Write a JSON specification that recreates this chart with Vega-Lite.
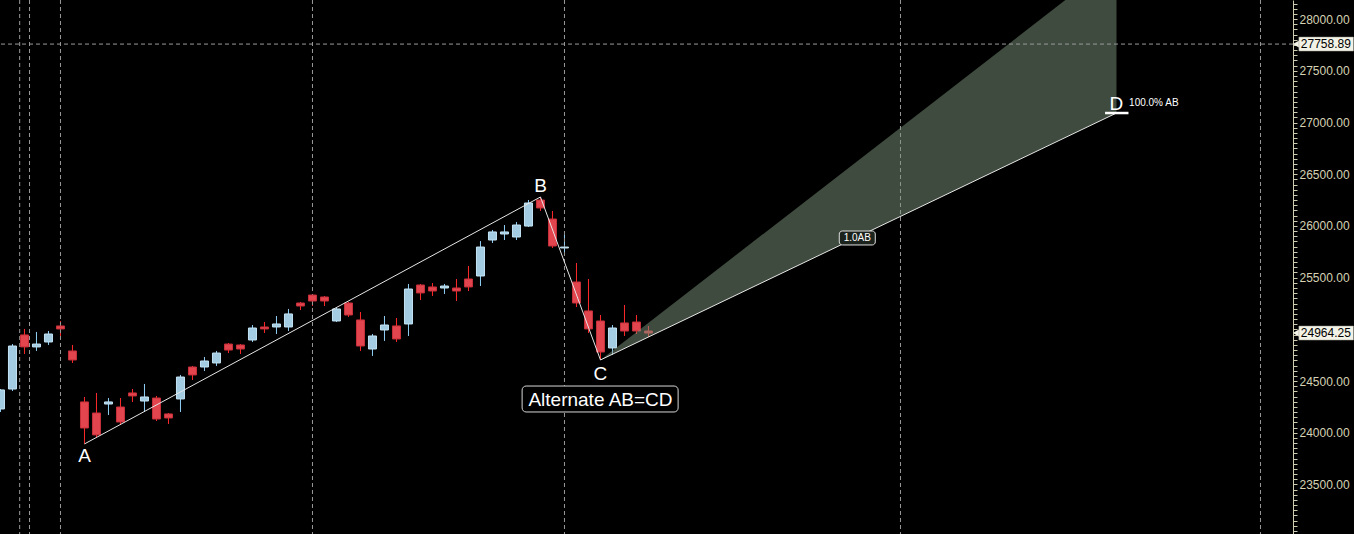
{
  "$schema": "https://vega.github.io/schema/vega-lite/v6.json",
  "width": 1293,
  "height": 534,
  "autosize": "none",
  "padding": {"left": 0, "top": 0, "right": 61, "bottom": 0},
  "background": "#000000",
  "config": {"view": {"stroke": null}},
  "datasets": {
    "one": [{}],
    "candles": [
      {"i": 0, "open": 24230, "high": 24423, "low": 24201, "close": 24414},
      {"i": 1, "open": 24423, "high": 24858, "low": 24404, "close": 24839},
      {"i": 2, "open": 24946, "high": 25004, "low": 24762, "close": 24830},
      {"i": 3, "open": 24830, "high": 24975, "low": 24791, "close": 24858},
      {"i": 4, "open": 24878, "high": 24984, "low": 24849, "close": 24955},
      {"i": 5, "open": 25033, "high": 25081, "low": 24936, "close": 25004},
      {"i": 6, "open": 24791, "high": 24849, "low": 24675, "close": 24704},
      {"i": 7, "open": 24298, "high": 24346, "low": 23892, "close": 24046},
      {"i": 8, "open": 24191, "high": 24385, "low": 23959, "close": 23979},
      {"i": 9, "open": 24278, "high": 24336, "low": 24172, "close": 24298},
      {"i": 10, "open": 24249, "high": 24336, "low": 24075, "close": 24104},
      {"i": 11, "open": 24385, "high": 24423, "low": 24298, "close": 24356},
      {"i": 12, "open": 24307, "high": 24472, "low": 24201, "close": 24346},
      {"i": 13, "open": 24336, "high": 24356, "low": 24114, "close": 24133},
      {"i": 14, "open": 24182, "high": 24191, "low": 24085, "close": 24143},
      {"i": 15, "open": 24327, "high": 24559, "low": 24201, "close": 24539},
      {"i": 16, "open": 24636, "high": 24646, "low": 24510, "close": 24559},
      {"i": 17, "open": 24636, "high": 24733, "low": 24597, "close": 24694},
      {"i": 18, "open": 24675, "high": 24791, "low": 24646, "close": 24771},
      {"i": 19, "open": 24858, "high": 24868, "low": 24771, "close": 24800},
      {"i": 20, "open": 24849, "high": 24858, "low": 24762, "close": 24810},
      {"i": 21, "open": 24897, "high": 25042, "low": 24878, "close": 25013},
      {"i": 22, "open": 25023, "high": 25071, "low": 24965, "close": 25004},
      {"i": 23, "open": 25023, "high": 25129, "low": 24955, "close": 25052},
      {"i": 24, "open": 25023, "high": 25197, "low": 24984, "close": 25149},
      {"i": 25, "open": 25255, "high": 25265, "low": 25187, "close": 25226},
      {"i": 26, "open": 25332, "high": 25342, "low": 25226, "close": 25274},
      {"i": 27, "open": 25313, "high": 25323, "low": 25226, "close": 25274},
      {"i": 28, "open": 25081, "high": 25207, "low": 25071, "close": 25197},
      {"i": 29, "open": 25255, "high": 25265, "low": 25120, "close": 25139},
      {"i": 30, "open": 25091, "high": 25168, "low": 24791, "close": 24839},
      {"i": 31, "open": 24810, "high": 24955, "low": 24743, "close": 24936},
      {"i": 32, "open": 24994, "high": 25129, "low": 24888, "close": 25042},
      {"i": 33, "open": 25033, "high": 25110, "low": 24878, "close": 24907},
      {"i": 34, "open": 25052, "high": 25439, "low": 24936, "close": 25390},
      {"i": 35, "open": 25429, "high": 25439, "low": 25284, "close": 25352},
      {"i": 36, "open": 25410, "high": 25448, "low": 25323, "close": 25371},
      {"i": 37, "open": 25400, "high": 25439, "low": 25342, "close": 25419},
      {"i": 38, "open": 25400, "high": 25487, "low": 25274, "close": 25371},
      {"i": 39, "open": 25487, "high": 25613, "low": 25371, "close": 25410},
      {"i": 40, "open": 25516, "high": 25854, "low": 25419, "close": 25796},
      {"i": 41, "open": 25864, "high": 25961, "low": 25835, "close": 25942},
      {"i": 42, "open": 25922, "high": 26009, "low": 25864, "close": 25942},
      {"i": 43, "open": 25893, "high": 26038, "low": 25864, "close": 26009},
      {"i": 44, "open": 25999, "high": 26251, "low": 25990, "close": 26222},
      {"i": 45, "open": 26251, "high": 26280, "low": 26145, "close": 26174},
      {"i": 46, "open": 26067, "high": 26145, "low": 25787, "close": 25806},
      {"i": 47, "open": 25787, "high": 25913, "low": 25738, "close": 25796},
      {"i": 48, "open": 25458, "high": 25642, "low": 25216, "close": 25255},
      {"i": 49, "open": 25178, "high": 25487, "low": 24965, "close": 25004},
      {"i": 50, "open": 25081, "high": 25139, "low": 24704, "close": 24781},
      {"i": 51, "open": 24820, "high": 25042, "low": 24752, "close": 25013},
      {"i": 52, "open": 25062, "high": 25236, "low": 24936, "close": 24984},
      {"i": 53, "open": 25071, "high": 25139, "low": 24955, "close": 24984},
      {"i": 54, "open": 24984, "high": 25033, "low": 24926, "close": 24964.25}
    ],
    "pattern": [
      {"point": "A", "i": 7, "price": 23892},
      {"point": "B", "i": 45, "price": 26280},
      {"point": "C", "i": 50, "price": 24704},
      {"point": "D", "i": 93, "price": 27092}
    ],
    "projection": [
      {"i": 50, "upper": 24704, "lower": 24704},
      {"i": 93, "upper": 28568, "lower": 27092}
    ],
    "grid": [{"i": 1.6}, {"i": 2.42}, {"i": 5}, {"i": 26}, {"i": 47}, {"i": 75}, {"i": 105}],
    "letters": [
      {"text": "A", "i": 7, "price": 23775},
      {"text": "B", "i": 45, "price": 26386},
      {"text": "C", "i": 50, "price": 24568},
      {"text": "D", "i": 93, "price": 27179}
    ],
    "tags": [
      {"price": 27758.89, "label": "27758.89"},
      {"price": 24964.25, "label": "24964.25"}
    ]
  },
  "layer": [
    {
      "data": {"name": "candles"},
      "mark": {"type": "rule", "strokeWidth": 1, "clip": true},
      "encoding": {
        "x": {"field": "i", "type": "quantitative", "axis": null, "scale": {"domain": [-0.04, 107.71], "nice": false, "zero": false, "padding": 0}},
        "y": {
          "field": "low", "type": "quantitative", "title": null,
          "scale": {"domain": [23021, 28185], "nice": false, "zero": false},
          "axis": {
            "orient": "right", "tickCount": 100, "grid": false, "domain": true,
            "domainColor": "#cfcbb0", "tickColor": "#cfcbb0", "tickSize": 4,
            "labelExpr": "datum.value % 500 === 0 && datum.value !== 25000 ? format(datum.value, '.2f') : ''",
            "labelColor": "#d6d2b4", "labelFont": "Liberation Sans", "labelFontSize": 12,
            "labelPadding": 2, "labelOverlap": false, "labelBound": false, "labelFlush": false
          }
        },
        "y2": {"field": "high"},
        "color": {"condition": {"test": "datum.close >= datum.open", "value": "#8fd0f5"}, "value": "#ff2a2a"}
      }
    },
    {
      "data": {"name": "grid"},
      "mark": {"type": "rule", "strokeDash": [4, 3], "color": "#9a9a9a", "strokeWidth": 1},
      "encoding": {
        "x": {"field": "i", "type": "quantitative", "axis": null}
      }
    },
    {
      "data": {"name": "candles"},
      "mark": {"type": "bar", "size": 8, "strokeWidth": 1, "clip": true},
      "encoding": {
        "x": {"field": "i", "type": "quantitative", "axis": null},
        "y": {"field": "open", "type": "quantitative", "title": null},
        "y2": {"field": "close"},
        "fill": {"condition": {"test": "datum.close >= datum.open", "value": "#a3cce2"}, "value": "#e2454e"},
        "stroke": {"condition": {"test": "datum.close >= datum.open", "value": "#c4e4f5"}, "value": "#c8303a"}
      }
    },
    {
      "data": {"name": "projection"},
      "mark": {"type": "area", "color": "#7d967e", "opacity": 0.5, "clip": true},
      "encoding": {
        "x": {"field": "i", "type": "quantitative", "axis": null},
        "y": {"field": "upper", "type": "quantitative", "title": null},
        "y2": {"field": "lower"}
      }
    },
    {
      "data": {"name": "one"},
      "mark": {"type": "rule", "strokeDash": [4, 3], "color": "#9a9a9a", "strokeWidth": 1},
      "encoding": {
        "y": {"datum": 27758.89, "type": "quantitative", "title": null}
      }
    },
    {
      "data": {"name": "pattern"},
      "mark": {"type": "line", "color": "#e6e6e6", "strokeWidth": 1, "clip": true},
      "encoding": {
        "x": {"field": "i", "type": "quantitative", "axis": null},
        "y": {"field": "price", "type": "quantitative", "title": null}
      }
    },
    {
      "data": {"name": "one"},
      "mark": {"type": "rule", "color": "#ffffff", "strokeWidth": 2.5},
      "encoding": {
        "x": {"datum": 92.05, "type": "quantitative", "axis": null},
        "x2": {"datum": 94},
        "y": {"datum": 27092, "type": "quantitative", "title": null}
      }
    },
    {
      "data": {"name": "letters"},
      "mark": {"type": "text", "color": "#ffffff", "font": "Liberation Sans", "fontSize": 19, "align": "center", "baseline": "middle"},
      "encoding": {
        "x": {"field": "i", "type": "quantitative", "axis": null},
        "y": {"field": "price", "type": "quantitative", "title": null},
        "text": {"field": "text"}
      }
    },
    {
      "data": {"name": "one"},
      "mark": {"type": "text", "color": "#ffffff", "font": "Liberation Sans", "fontSize": 10, "align": "left", "baseline": "middle"},
      "encoding": {
        "x": {"datum": 94.05, "type": "quantitative", "axis": null},
        "y": {"datum": 27189, "type": "quantitative", "title": null},
        "text": {"value": "100.0% AB"}
      }
    },
    {
      "data": {"name": "one"},
      "mark": {"type": "rect", "fill": "#000000", "stroke": "#d8d8d8", "strokeWidth": 1, "cornerRadius": 4},
      "encoding": {
        "x": {"datum": 43.47, "type": "quantitative", "axis": null},
        "x2": {"datum": 56.47},
        "y": {"datum": 24452, "type": "quantitative", "title": null},
        "y2": {"datum": 24201}
      }
    },
    {
      "data": {"name": "one"},
      "mark": {"type": "text", "color": "#ffffff", "font": "Liberation Sans", "fontSize": 19, "align": "center", "baseline": "middle"},
      "encoding": {
        "x": {"datum": 50, "type": "quantitative", "axis": null},
        "y": {"datum": 24320, "type": "quantitative", "title": null},
        "text": {"value": "Alternate AB=CD"}
      }
    },
    {
      "data": {"name": "one"},
      "mark": {"type": "rect", "fill": "#1c221c", "stroke": "#e0e0e0", "strokeWidth": 1, "cornerRadius": 3},
      "encoding": {
        "x": {"datum": 69.9, "type": "quantitative", "axis": null},
        "x2": {"datum": 72.9},
        "y": {"datum": 25951, "type": "quantitative", "title": null},
        "y2": {"datum": 25816}
      }
    },
    {
      "data": {"name": "one"},
      "mark": {"type": "text", "color": "#ffffff", "font": "Liberation Sans", "fontSize": 10, "align": "center", "baseline": "middle"},
      "encoding": {
        "x": {"datum": 71.4, "type": "quantitative", "axis": null},
        "y": {"datum": 25884, "type": "quantitative", "title": null},
        "text": {"value": "1.0AB"}
      }
    },
    {
      "data": {"name": "tags"},
      "mark": {"type": "point", "shape": "triangle-left", "filled": true, "size": 70, "color": "#f2f2e6", "opacity": 1},
      "encoding": {
        "x": {"datum": 108.0, "type": "quantitative", "axis": null},
        "y": {"field": "price", "type": "quantitative", "title": null}
      }
    },
    {
      "data": {"name": "tags"},
      "mark": {"type": "rect", "fill": "#f2f2e6", "stroke": "#9a9a90", "strokeWidth": 0.5, "yOffset": -7, "y2Offset": 7},
      "encoding": {
        "x": {"datum": 108.2, "type": "quantitative", "axis": null},
        "x2": {"datum": 112.75},
        "y": {"field": "price", "type": "quantitative", "title": null},
        "y2": {"field": "price"}
      }
    },
    {
      "data": {"name": "tags"},
      "mark": {"type": "text", "color": "#000000", "font": "Liberation Sans", "fontSize": 12, "align": "center", "baseline": "middle"},
      "encoding": {
        "x": {"datum": 110.45, "type": "quantitative", "axis": null},
        "y": {"field": "price", "type": "quantitative", "title": null},
        "text": {"field": "label"}
      }
    }
  ]
}
